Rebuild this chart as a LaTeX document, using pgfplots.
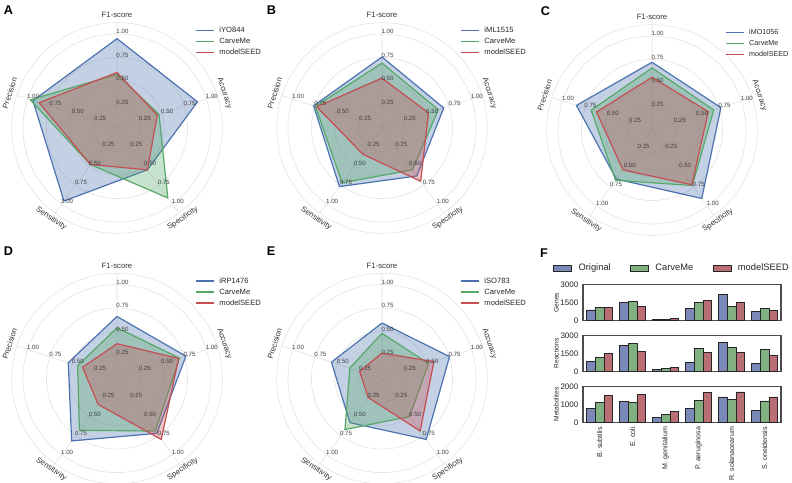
\documentclass[border=0pt]{standalone}
\usepackage{fontspec}
\setmainfont{Liberation Sans}
\usepackage{pgfplots}
\pgfplotsset{compat=1.18}
\usepgfplotslibrary{polar}

\definecolor{cb}{HTML}{4C72B0}
\definecolor{cg}{HTML}{55A868}
\definecolor{cr}{HTML}{C44E52}
\definecolor{fb}{RGB}{122,137,184}
\definecolor{fg}{RGB}{129,176,129}
\definecolor{fr}{RGB}{185,110,116}

\tikzset{
  rtick/.style={font=\fontsize{4.6}{5}\selectfont, text=black!75, xshift=4.1pt, yshift=1.9pt, inner sep=0pt},
  rlab/.style={font=\fontsize{5.8}{7}\selectfont, text=black!80, inner sep=0pt},
  plab/.style={font=\fontsize{9.5}{10}\selectfont\bfseries, inner sep=0pt},
}

\pgfplotsset{
  radar/.style={
    scale only axis, width=158pt, height=158pt,
    anchor=center, clip=false,
    ymin=0, ymax=1.12,
    xtick={18,90,162,234,306}, xticklabels={},
    ytick={0.25,0.5,0.75,1}, yticklabels={},
    grid=major, major grid style={draw=black!12, line width=0.4pt},
    separate axis lines,
    x axis line style={draw=black!12, line width=0.4pt},
    y axis line style={draw=none},
    major tick length=0pt,
    legend style={draw=none, fill=none, font=\fontsize{5.7}{7}\selectfont,
      at={(0.87,0.985)}, anchor=north west, inner sep=0pt, row sep=1.4pt,
      nodes={inner sep=0.6pt, text height=4.4pt, text depth=1.2pt, text=black!85},
      /tikz/every odd column/.append style={column sep=3pt}},
    legend cell align=left,
    legend image code/.code={\draw[##1, line width=1.1pt] (0pt,0pt) -- (13.5pt,0pt);},
  },
  rb/.style={draw=cb, fill=cb, fill opacity=0.33, line width=0.9pt, line join=round},
  rg/.style={draw=cg, fill=cg, fill opacity=0.33, line width=0.9pt, line join=round},
  rr/.style={draw=cr, fill=cr, fill opacity=0.33, line width=0.9pt, line join=round},
  fbar/.style={
    scale only axis, width=148.5pt, height=27pt, anchor=south west,
    xmin=-0.5, xmax=5.5, ymin=0,
    xtick={0,...,5}, xticklabels={},
    major tick length=0pt,
    axis line style={draw=black!70, line width=0.8pt},
    ybar, bar width=0.267,
    scaled y ticks=false,
    tick label style={font=\fontsize{6}{7}\selectfont, text=black!85},
    /pgf/number format/1000 sep={},
    /pgf/number format/assume math mode=true,
    every axis y label/.style={at={(axis description cs:-0.135,0.5)}, rotate=90, anchor=center, font=\fontsize{5}{6}\selectfont, text=black!85},
  },
  bo/.style={draw=black!85, fill=fb, line width=0.5pt, bar shift=-0.267},
  bc/.style={draw=black!85, fill=fg, line width=0.5pt, bar shift=0},
  bm/.style={draw=black!85, fill=fr, line width=0.5pt, bar shift=0.267},
  fleg/.style={legend image code/.code={\draw[##1, line width=0.5pt] (0pt,-2.2pt) rectangle (13.5pt,2.2pt);}},
}

\newcommand\radarticks{%
  \foreach \a in {18,90,162,234,306}{%
    \foreach \v in {0.25,0.50,0.75,1.00}{%
      \edef\tmp{\noexpand\node[rtick] at (axis cs:\a,\v) {\v};}\tmp
    }}}
\newcommand\radarlabels{%
  \node[rlab] at (axis cs:90,1.2) {F1-score};
  \node[rlab, rotate=-72] at (axis cs:18,1.2) {Accuracy};
  \node[rlab, rotate=34] at (axis cs:306,1.19) {Specificity};
  \node[rlab, rotate=-34] at (axis cs:234,1.19) {Sensitivity};
  \node[rlab, rotate=72] at (axis cs:162,1.2) {Precision};
}

\begin{document}
\begin{tikzpicture}
\path[use as bounding box] (0,0) rectangle (594pt,361.5pt);

% ---------- A ----------
\begin{polaraxis}[radar, at={(87.75pt,265.5pt)}]
\addplot[rb] coordinates {(90,0.95) (18,0.90) (306,0.55) (234,0.96) (162,0.94)} -- cycle;
\addlegendentry{iYO844}
\addplot[rg] coordinates {(90,0.57) (18,0.47) (306,0.92) (234,0.48) (162,0.97)} -- cycle;
\addlegendentry{CarveMe}
\addplot[rr] coordinates {(90,0.59) (18,0.45) (306,0.55) (234,0.48) (162,0.87)} -- cycle;
\addlegendentry{modelSEED}
\radarticks
\radarlabels
\end{polaraxis}

% ---------- B ----------
\begin{polaraxis}[radar, at={(286.5pt,265.5pt)}]
\addplot[rb] coordinates {(90,0.755) (18,0.69) (306,0.63) (234,0.77) (162,0.765)} -- cycle;
\addlegendentry{iML1515}
\addplot[rg] coordinates {(90,0.69) (18,0.63) (306,0.55) (234,0.72) (162,0.745)} -- cycle;
\addlegendentry{CarveMe}
\addplot[rr] coordinates {(90,0.53) (18,0.52) (306,0.70) (234,0.345) (162,0.73)} -- cycle;
\addlegendentry{modelSEED}
\radarticks
\radarlabels
\end{polaraxis}

% ---------- C ----------
\begin{polaraxis}[radar, at={(489pt,264pt)}, legend style={at={(0.845,0.985)}, font=\fontsize{5.4}{7}\selectfont}]
\addplot[rb] coordinates {(90,0.72) (18,0.77) (306,0.90) (234,0.645) (162,0.845)} -- cycle;
\addlegendentry{iMO1056}
\addplot[rg] coordinates {(90,0.66) (18,0.69) (306,0.73) (234,0.66) (162,0.68)} -- cycle;
\addlegendentry{CarveMe}
\addplot[rr] coordinates {(90,0.56) (18,0.63) (306,0.72) (234,0.525) (162,0.62)} -- cycle;
\addlegendentry{modelSEED}
\radarticks
\radarlabels
\end{polaraxis}

% ---------- D ----------
\begin{polaraxis}[radar, at={(87.75pt,77.6pt)}]
\addplot[rb] coordinates {(90,0.66) (18,0.77) (306,0.72) (234,0.82) (162,0.545)} -- cycle;
\addlegendentry{iRP1476}
\addplot[rg] coordinates {(90,0.54) (18,0.70) (306,0.69) (234,0.68) (162,0.44)} -- cycle;
\addlegendentry{CarveMe}
\addplot[rr] coordinates {(90,0.37) (18,0.69) (306,0.80) (234,0.34) (162,0.385)} -- cycle;
\addlegendentry{modelSEED}
\radarticks
\radarlabels
\end{polaraxis}

% ---------- E ----------
\begin{polaraxis}[radar, at={(286.5pt,77.6pt)}]
\addplot[rb] coordinates {(90,0.59) (18,0.755) (306,0.80) (234,0.58) (162,0.565)} -- cycle;
\addlegendentry{iSO783}
\addplot[rg] coordinates {(90,0.48) (18,0.52) (306,0.50) (234,0.67) (162,0.36)} -- cycle;
\addlegendentry{CarveMe}
\addplot[rr] coordinates {(90,0.27) (18,0.58) (306,0.69) (234,0.25) (162,0.25)} -- cycle;
\addlegendentry{modelSEED}
\radarticks
\radarlabels
\end{polaraxis}

% ---------- F ----------
\begin{axis}[fbar, at={(437.25pt,121.1pt)}, ymax=3000, ytick={0,1500,3000}, ylabel={Genes},
  legend style={at={(-0.1515,1.458)}, anchor=west, draw=none, fill=none, legend columns=3,
    font=\fontsize{7}{8}\selectfont, inner sep=0pt, nodes={inner sep=0.5pt, text=black!85},
    /tikz/every odd column/.append style={column sep=4.5pt},
    /tikz/every even column/.append style={column sep=14pt}}]
\addplot[bo, fleg] coordinates {(0,880) (1,1540) (2,120) (3,1000) (4,2170) (5,760)};
\addlegendentry{Original}
\addplot[bc, fleg] coordinates {(0,1070) (1,1620) (2,110) (3,1530) (4,1170) (5,1000)};
\addlegendentry{CarveMe}
\addplot[bm, fleg] coordinates {(0,1070) (1,1150) (2,170) (3,1670) (4,1500) (5,830)};
\addlegendentry{modelSEED}
\end{axis}

\begin{axis}[fbar, at={(437.25pt,82.9pt)}, ymax=3000, ytick={0,1500,3000}, ylabel={Reactions}]
\addplot[bo] coordinates {(0,860) (1,2195) (2,140) (3,780) (4,2390) (5,695)};
\addplot[bc] coordinates {(0,1195) (1,2305) (2,220) (3,1890) (4,1970) (5,1835)};
\addplot[bm] coordinates {(0,1530) (1,1640) (2,305) (3,1610) (4,1585) (5,1305)};
\end{axis}

\begin{axis}[fbar, at={(437.25pt,44.8pt)}, ymax=2000, ytick={0,1000,2000}, ylabel={Metabolites},
  xticklabels={B. subtilis, E. coli, M. genitalium, P. aeruginosa, R. solanacearum, S. oneidensis},
  xticklabel style={rotate=90, anchor=east, font=\fontsize{5.3}{6}\selectfont}]
\addplot[bo] coordinates {(0,790) (1,1175) (2,275) (3,750) (4,1410) (5,660)};
\addplot[bc] coordinates {(0,1100) (1,1120) (2,440) (3,1210) (4,1265) (5,1190)};
\addplot[bm] coordinates {(0,1470) (1,1540) (2,605) (3,1650) (4,1690) (5,1410)};
\end{axis}

% panel letters
\node[plab] at (6.4pt,353.6pt) {A};
\node[plab] at (203.6pt,353.6pt) {B};
\node[plab] at (409.1pt,353.25pt) {C};
\node[plab] at (6.4pt,172.9pt) {D};
\node[plab] at (203.25pt,172.9pt) {E};
\node[plab] at (408pt,171.75pt) {F};
\end{tikzpicture}
\end{document}
